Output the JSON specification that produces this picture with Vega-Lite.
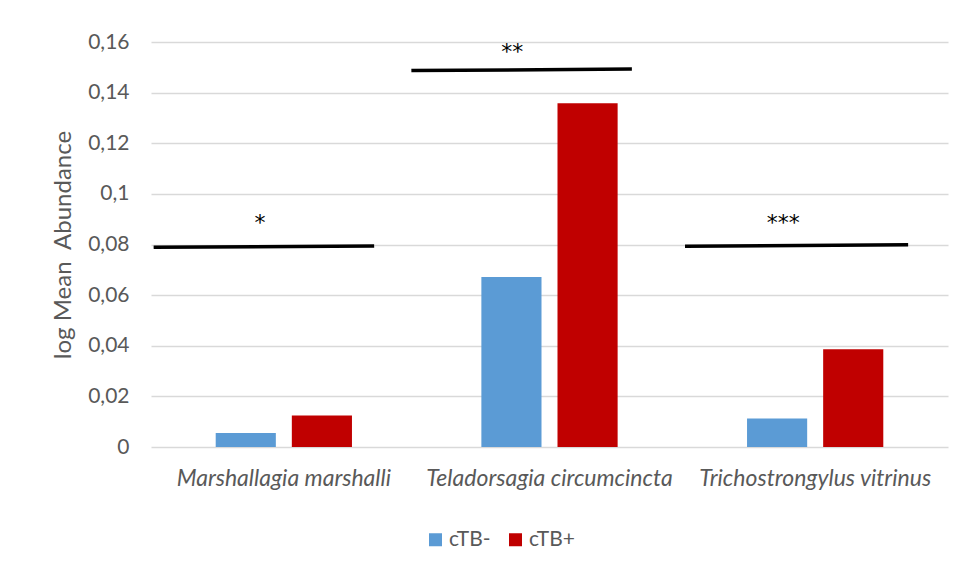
{
  "$schema": "https://vega.github.io/schema/vega-lite/v6.json",
  "autosize": {"type": "none"},
  "width": 797,
  "height": 405,
  "padding": {"left": 151, "top": 42, "right": 21, "bottom": 134},
  "background": "white",
  "config": {
    "view": {"stroke": null},
    "font": "Lato",
    "axis": {"labelColor": "#595959", "titleColor": "#595959", "labelFont": "Lato", "titleFont": "Lato"}
  },
  "datasets": {
    "bars": [
      {"species": "Marshallagia marshalli", "group": "cTB-", "value": 0.0055},
      {"species": "Marshallagia marshalli", "group": "cTB+", "value": 0.0124},
      {"species": "Teladorsagia circumcincta", "group": "cTB-", "value": 0.0672},
      {"species": "Teladorsagia circumcincta", "group": "cTB+", "value": 0.1358},
      {"species": "Trichostrongylus vitrinus", "group": "cTB-", "value": 0.0113},
      {"species": "Trichostrongylus vitrinus", "group": "cTB+", "value": 0.0386}
    ],
    "sig": [
      {"label": "*", "start": 0.01, "end": 0.84, "yStart": 0.0789, "yEnd": 0.0794, "mid": 0.41, "labelY": 0.0885},
      {"label": "**", "start": 0.98, "end": 1.81, "yStart": 0.1487, "yEnd": 0.1493, "mid": 1.36, "labelY": 0.1562},
      {"label": "***", "start": 2.01, "end": 2.85, "yStart": 0.0793, "yEnd": 0.0799, "mid": 2.38, "labelY": 0.0885}
    ]
  },
  "layer": [
    {
      "data": {"name": "bars"},
      "mark": {"type": "bar"},
      "encoding": {
        "x": {
          "field": "species", "type": "nominal", "sort": null,
          "scale": {"paddingInner": 0, "paddingOuter": 0},
          "axis": {"title": null, "labelAngle": 0, "labelFontSize": 23, "labelFontStyle": "italic", "labelPadding": 20, "labelLimit": 0, "ticks": false, "domain": false, "grid": false}
        },
        "xOffset": {
          "field": "group", "type": "nominal", "sort": ["cTB-", "cTB+"],
          "scale": {"paddingInner": 0.21, "paddingOuter": 0.85}
        },
        "y": {
          "field": "value", "type": "quantitative",
          "scale": {"domain": [0, 0.16], "nice": false},
          "axis": {
            "title": "log Mean\u00a0 Abundance", "titleFontSize": 24, "titleFontWeight": "normal", "titlePadding": 12,
            "values": [0, 0.02, 0.04, 0.06, 0.08, 0.1, 0.12, 0.14, 0.16],
            "labelExpr": "replace(format(datum.value, '.2~f'), '.', ',')",
            "labelFontSize": 21, "labelPadding": 22, "ticks": false, "domain": false,
            "gridColor": "#d9d9d9", "gridWidth": 1.5
          }
        },
        "color": {
          "field": "group", "type": "nominal", "sort": ["cTB-", "cTB+"],
          "scale": {"domain": ["cTB-", "cTB+"], "range": ["#5B9BD5", "#C00000"]},
          "legend": {
            "title": null, "orient": "none", "direction": "horizontal",
            "legendX": 274, "legendY": 487,
            "symbolType": "square", "symbolSize": 169, "symbolStrokeWidth": 0,
            "labelFontSize": 21, "labelColor": "#595959", "labelFont": "Lato",
            "labelOffset": 3, "columnPadding": 14
          }
        }
      }
    },
    {
      "data": {"name": "sig"},
      "mark": {"type": "rule", "color": "black", "strokeWidth": 3.5},
      "encoding": {
        "x": {"field": "start", "type": "quantitative", "scale": {"domain": [0, 3], "nice": false, "zero": false}, "axis": null},
        "x2": {"field": "end"},
        "y": {"field": "yStart", "type": "quantitative"},
        "y2": {"field": "yEnd"}
      }
    },
    {
      "data": {"name": "sig"},
      "mark": {"type": "text", "color": "black", "fontSize": 22, "baseline": "middle", "font": "DejaVu Sans"},
      "encoding": {
        "x": {"field": "mid", "type": "quantitative", "scale": {"domain": [0, 3], "nice": false, "zero": false}, "axis": null},
        "y": {"field": "labelY", "type": "quantitative"},
        "text": {"field": "label"}
      }
    }
  ],
  "resolve": {"scale": {"x": "independent"}}
}
